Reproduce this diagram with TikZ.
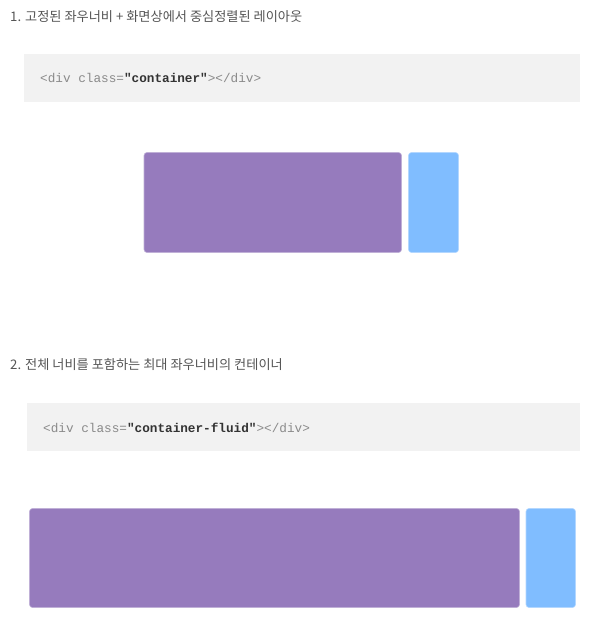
\documentclass[tikz,border=0pt]{standalone}
\usepackage{fontspec}
\setmainfont{Liberation Sans}
\newfontfamily\krfont{Noto Sans CJK KR}
\setmonofont{Liberation Mono}
\definecolor{titlegray}{HTML}{555555}
\definecolor{codegray}{HTML}{8A8A8A}
\definecolor{codedark}{HTML}{333333}
\definecolor{codebg}{HTML}{F2F2F2}
\definecolor{purplebox}{HTML}{967BBD}
\definecolor{bluebox}{HTML}{80BDFF}
\begin{document}
\begin{tikzpicture}[x=1pt,y=-1pt,
  title/.style={anchor=west,inner sep=0pt,text=titlegray,font=\krfont\fontsize{13.2}{15}\selectfont},
  code/.style={anchor=west,inner sep=0pt,text=codegray,font=\ttfamily\fontsize{12.7}{15}\selectfont},
  codebox/.style={fill=codebg,draw=none},
  pbox/.style={fill=purplebox,draw=purplebox!60!white,line width=0.6pt,rounded corners=3pt},
  bbox/.style={fill=bluebox,draw=bluebox!60!white,line width=0.6pt,rounded corners=3pt}]
\useasboundingbox (0,0) rectangle (607,642);
\fill[white] (0,0) rectangle (607,642);
% Section 1
\node[title] (t1) at (10,17) {1. 고정된 좌우너비 + 화면상에서 중심정렬된 레이아웃};
\path[codebox] (24,54) rectangle (580,102);
\node[code] (c1) at (40,77.5) {<div class=\textbf{\textcolor{codedark}{"container"}}></div>};
\path[pbox] (144,152.5) rectangle (401.5,252.5);
\path[bbox] (408.5,152.5) rectangle (458.5,252.5);
% Section 2
\node[title] (t2) at (10,365) {2. 전체 너비를 포함하는 최대 좌우너비의 컨테이너};
\path[codebox] (27,403) rectangle (580,451);
\node[code] (c2) at (43,427.5) {<div class=\textbf{\textcolor{codedark}{"container-fluid"}}></div>};
\path[pbox] (29.5,508.5) rectangle (519.5,607.5);
\path[bbox] (526,508.5) rectangle (575.5,607.5);
\end{tikzpicture}
\end{document}
